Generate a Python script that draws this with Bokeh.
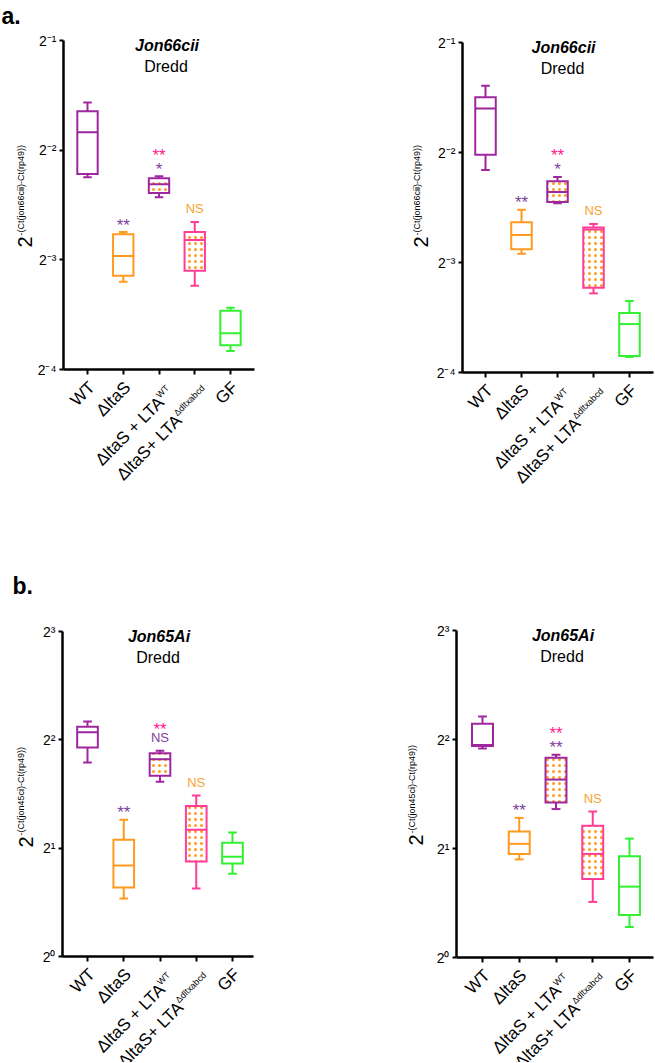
import math
from bokeh.plotting import figure
from bokeh.models import Range1d, FixedTicker, Label, ColumnDataSource
from bokeh.layouts import column, row
from bokeh.embed import file_html
from bokeh.resources import INLINE

# ---------------- data ----------------
label_main = ["WT", "\u0394ltaS", "\u0394ltaS + LTA", "\u0394ltaS+ LTA", "GF"]
label_sup = ["", "", "WT", "\u0394dltxabcd", ""]

# panel a, left (Jon66cii) : whisker low, q1, median, q3, whisker high
a1_low = [0.2107, 0.1088, 0.1856, 0.1061, 0.0703]
a1_q1 = [0.2150, 0.1130, 0.1908, 0.1166, 0.0728]
a1_med = [0.2800, 0.1280, 0.2017, 0.1416, 0.0786]
a1_q3 = [0.3198, 0.1470, 0.2095, 0.1490, 0.0906]
a1_high = [0.3380, 0.1490, 0.2120, 0.1588, 0.0924]

# panel a, right (Jon66cii)
a2_low = [0.2238, 0.1321, 0.1817, 0.1029, 0.0689]
a2_q1 = [0.2466, 0.1359, 0.1830, 0.1066, 0.0694]
a2_med = [0.3300, 0.1487, 0.1948, 0.1539, 0.0848]
a2_q3 = [0.3540, 0.1611, 0.2085, 0.1558, 0.0909]
a2_high = [0.3810, 0.1744, 0.2144, 0.1594, 0.0981]

# panel b, left (Jon65Ai)
b1_low = [3.46, 1.449, 3.06, 1.544, 1.699]
b1_q1 = [3.81, 1.554, 3.18, 1.835, 1.813]
b1_med = [4.20, 1.790, 3.53, 2.250, 1.892]
b1_q3 = [4.35, 2.110, 3.67, 2.620, 2.070]
b1_high = [4.50, 2.400, 3.73, 2.800, 2.210]

# panel b, right (Jon65Ai)
b2_low = [3.78, 1.866, 2.57, 1.424, 1.214]
b2_q1 = [3.84, 1.932, 2.68, 1.647, 1.310]
b2_med = [3.86, 2.060, 3.10, 1.932, 1.569]
b2_q3 = [4.42, 2.230, 3.56, 2.310, 1.905]
b2_high = [4.63, 2.430, 3.63, 2.530, 2.130]

a_ticks = [0.0625, 0.125, 0.25, 0.5]
a_tick_labels = ["2\u207b\u2074", "2\u207b\u00b3", "2\u207b\u00b2", "2\u207b\u00b9"]
b_ticks = [1.0, 2.0, 4.0, 8.0]
b_tick_labels = ["2\u2070", "2\u00b9", "2\u00b2", "2\u00b3"]

# significance marks: (group index, level, text, colour key)
a1_marks = [(1, 1, "**", "sp"), (2, 1, "*", "sp"), (2, 2, "**", "sk"), (3, 1, "NS", "so")]
a2_marks = [(1, 1, "**", "sp"), (2, 1, "*", "sp"), (2, 2, "**", "sk"), (3, 1, "NS", "so")]
b1_marks = [(1, 1, "**", "sp"), (2, 1, "NS", "sp"), (2, 2, "**", "sk"), (3, 1, "NS", "so")]
b2_marks = [(1, 1, "**", "sp"), (2, 1, "**", "sp"), (2, 2, "**", "sk"), (3, 1, "NS", "so")]

# ---------------- styles ----------------
PURPLE = "#9E27A0"
ORANGE = "#FF9A1F"
PINK = "#FF3D96"
GREEN = "#33F033"
box_colors = [PURPLE, ORANGE, PURPLE, PINK, GREEN]
hatched = [False, False, True, True, False]
mark_colors = {"sp": "#7E3F9D", "sk": "#FF1B8D", "so": "#F9A232"}
FONT = "Liberation Sans"
R2 = math.sqrt(0.5)


def make_panel(low, q1, med, q3, high, ticks, tick_labels, marks, title, ylab_sup, geom):
    (x0, w, y0, h, axis_px, wt_px, dx, end_px, top_px, bot_px,
     ylab_dx, ylab_dy, title_dx) = geom
    top_exp = math.log2(ticks[-1])
    bot_exp = math.log2(ticks[0])
    ppu = (bot_px - top_px) / (top_exp - bot_exp)
    xr = (1 + (x0 - wt_px) / dx, 1 + (x0 + w - wt_px) / dx)
    yr = (2 ** (top_exp - (y0 + h - top_px) / ppu), 2 ** (top_exp + (top_px - y0) / ppu))
    ax_x = 1 + (axis_px - wt_px) / dx
    ax_end = 1 + (end_px - wt_px) / dx
    ybot, ytop = ticks[0], ticks[-1]

    p = figure(width=w, height=h, output_backend="svg", toolbar_location=None,
               y_axis_type="log", x_range=Range1d(*xr), y_range=Range1d(*yr),
               min_border=0, min_border_left=0, min_border_right=0,
               min_border_top=0, min_border_bottom=0)
    p.outline_line_color = None
    p.xgrid.visible = False
    p.ygrid.visible = False
    p.background_fill_color = "white"
    p.border_fill_color = "white"

    xs = [1, 2, 3, 4, 5]
    src = ColumnDataSource(dict(x=xs, low=low, q1=q1, med=med, q3=q3, high=high,
                                color=box_colors,
                                cl=[x - 0.12 for x in xs], cr=[x + 0.12 for x in xs],
                                ml=[x - 0.285 for x in xs], mr=[x + 0.285 for x in xs]))
    kw = dict(line_color="color", line_width=2, source=src)
    p.segment(x0="x", y0="q3", x1="x", y1="high", **kw)
    p.segment(x0="x", y0="q1", x1="x", y1="low", **kw)
    p.segment(x0="cl", y0="high", x1="cr", y1="high", **kw)
    p.segment(x0="cl", y0="low", x1="cr", y1="low", **kw)
    plain = [i for i in range(5) if not hatched[i]]
    hat = [i for i in range(5) if hatched[i]]
    sp = ColumnDataSource(dict(x=[xs[i] for i in plain], q1=[q1[i] for i in plain],
                               q3=[q3[i] for i in plain], color=[box_colors[i] for i in plain]))
    sh = ColumnDataSource(dict(x=[xs[i] for i in hat], q1=[q1[i] for i in hat],
                               q3=[q3[i] for i in hat], color=[box_colors[i] for i in hat]))
    p.vbar(x="x", width=0.57, top="q3", bottom="q1", fill_color="white",
           line_color="color", line_width=2, line_join="miter", source=sp)
    p.vbar(x="x", width=0.57, top="q3", bottom="q1", fill_color="white",
           line_color="color", line_width=2, line_join="miter",
           hatch_pattern="dot", hatch_color=ORANGE, hatch_scale=6, hatch_weight=1,
           source=sh)
    p.segment(x0="ml", y0="med", x1="mr", y1="med", **kw)

    # axes, drawn inside the frame at fixed locations
    for ax in (p.xaxis[0], p.yaxis[0]):
        ax.axis_line_width = 2.5
        ax.axis_line_color = "black"
        ax.major_tick_line_width = 2
        ax.major_tick_line_color = "black"
        ax.major_tick_in = 0
        ax.minor_tick_line_color = None
    xa = p.xaxis[0]
    xa.fixed_location = ybot
    xa.bounds = (ax_x, ax_end)
    xa.ticker = FixedTicker(ticks=xs)
    xa.major_tick_out = 5
    xa.major_label_text_color = None
    ya = p.yaxis[0]
    ya.fixed_location = ax_x
    ya.bounds = (ybot, ytop)
    ya.ticker = FixedTicker(ticks=ticks)
    ya.major_tick_out = 4
    ya.major_label_overrides = {t: l for t, l in zip(ticks, tick_labels)}
    ya.major_label_text_font = FONT
    ya.major_label_text_font_size = "14px"
    ya.major_label_text_color = "black"
    ya.major_label_standoff = 3

    # x labels (rotated, with superscripts)
    for i in range(5):
        tick = xs[i]
        if label_sup[i]:
            esx, esy = 8.5, 17
            lsup = 14.0 if label_sup[i] == "WT" else 39.5
            p.add_layout(Label(x=tick, y=ybot, text=label_sup[i], angle=math.pi / 4,
                               text_align="right", text_baseline="middle",
                               x_offset=esx, y_offset=-esy, text_font=FONT,
                               text_font_size="9px", text_color="black"))
            mx = esx - R2 * lsup + 5 * R2
            my = esy + R2 * lsup + 5 * R2
        else:
            mx, my = 4.5, 15
        p.add_layout(Label(x=tick, y=ybot, text=label_main[i], angle=math.pi / 4,
                           text_align="right", text_baseline="middle",
                           x_offset=mx, y_offset=-my, text_font=FONT,
                           text_font_size="17px", text_color="black"))

    # y axis title: 2^{...}
    p.add_layout(Label(x=ax_x, y=ybot, text="2", angle=math.pi / 2, text_align="right",
                       text_baseline="middle", x_offset=ylab_dx, y_offset=ylab_dy,
                       text_font=FONT, text_font_size="20px", text_color="black"))
    p.add_layout(Label(x=ax_x, y=ybot, text=ylab_sup, angle=math.pi / 2, text_align="left",
                       text_baseline="middle", x_offset=ylab_dx - 4.5, y_offset=ylab_dy + 1,
                       text_font=FONT, text_font_size="9px", text_color="black"))

    # titles
    p.add_layout(Label(x=3, y=ytop, text=title, text_align="center", text_baseline="middle",
                       x_offset=title_dx, y_offset=-5, text_font=FONT,
                       text_font_style="bold italic", text_font_size="16px",
                       text_color="black"))
    p.add_layout(Label(x=3, y=ytop, text="Dredd", text_align="center", text_baseline="middle",
                       x_offset=title_dx - 1, y_offset=-26, text_font=FONT,
                       text_font_size="16px", text_color="black"))

    # significance marks
    for gi, lvl, txt, ck in marks:
        star = txt.startswith("*")
        if star:
            off = (11 if lvl == 1 else 25) - 4
        else:
            off = 13 if lvl == 1 else 26
        p.add_layout(Label(x=xs[gi], y=high[gi], text=txt, text_align="center",
                           text_baseline="middle", y_offset=off, text_font=FONT,
                           text_font_size="17px" if star else "13px",
                           text_color=mark_colors[ck]))
    return p, ax_x


# geometry in page pixels: x0, w, y0, h, axis x, WT tick x, tick spacing, axis end x,
# top tick y, bottom tick y, y-title dx, y-title dy, title dx
geo_a1 = (0, 328, 0, 540, 63, 87, 35.75, 254, 40, 369, -38.5, 133, 8)
geo_a2 = (328, 326, 0, 540, 462, 485, 36.0, 653, 42, 372, -41.5, 136, 6)
geo_b1 = (0, 328, 540, 522, 62, 87, 36.25, 253, 631, 956, -37, 120, -1)
geo_b2 = (328, 326, 540, 522, 456, 482, 36.75, 653, 630, 957, -40.5, 123, 7)

pa1, axa1 = make_panel(a1_low, a1_q1, a1_med, a1_q3, a1_high, a_ticks, a_tick_labels,
                       a1_marks, "Jon66cii", "-(Ct(jon66cii)-Ct(rp49))", geo_a1)
pa2, _ = make_panel(a2_low, a2_q1, a2_med, a2_q3, a2_high, a_ticks, a_tick_labels,
                    a2_marks, "Jon66cii", "-(Ct(jon66cii)-Ct(rp49))", geo_a2)
pb1, axb1 = make_panel(b1_low, b1_q1, b1_med, b1_q3, b1_high, b_ticks, b_tick_labels,
                       b1_marks, "Jon65Ai", "-(Ct(jon45ci)-Ct(rp49))", geo_b1)
pb2, _ = make_panel(b2_low, b2_q1, b2_med, b2_q3, b2_high, b_ticks, b_tick_labels,
                    b2_marks, "Jon65Ai", "-(Ct(jon45ci)-Ct(rp49))", geo_b2)

pa1.add_layout(Label(x=axa1, y=0.5, text="a.", text_align="left", text_baseline="alphabetic",
                     x_offset=-62, y_offset=25, text_font=FONT, text_font_style="bold",
                     text_font_size="23px", text_color="black"))
pb1.add_layout(Label(x=axb1, y=8.0, text="b.", text_align="left", text_baseline="alphabetic",
                     x_offset=-50, y_offset=46, text_font=FONT, text_font_style="bold",
                     text_font_size="23px", text_color="black"))

layout = column(row(pa1, pa2), row(pb1, pb2))
open("out.html", "w").write(file_html(layout, INLINE))
